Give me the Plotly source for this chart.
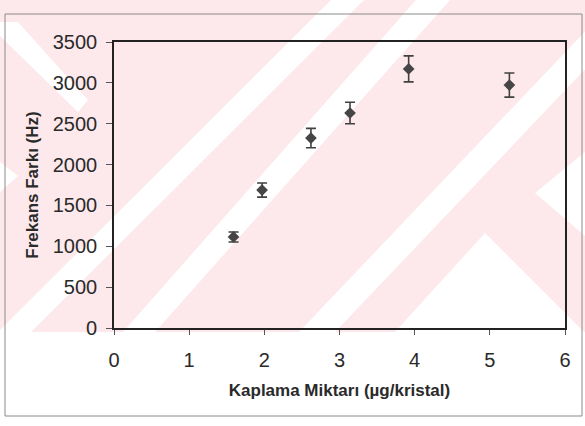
import plotly.graph_objects as go

# ---- data ----
kaplama = [1.59, 1.97, 2.62, 3.14, 3.92, 5.26]          # µg/kristal
frekans = [1114, 1688, 2324, 2631, 3171, 2973]          # Hz
hata = [61, 86, 119, 132, 159, 147]                      # error (Hz)

x_ticks = [0, 1, 2, 3, 4, 5, 6]
y_ticks = [0, 500, 1000, 1500, 2000, 2500, 3000, 3500]
x_title = "Kaplama Miktarı (µg/kristal)"
y_title = "Frekans Farkı (Hz)"

# ---- layout geometry (pixels) ----
W, H = 585, 426
L, R, T, B = 114, 20, 42, 98
pw, ph = W - L - R, H - T - B


def px2paper(px, py):
    return (px - L) / pw, (H - B - py) / ph


def path_from_px(points):
    parts = []
    for i, (px, py) in enumerate(points):
        xp, yp = px2paper(px, py)
        parts.append(("M" if i == 0 else "L") + f"{xp:.4f},{yp:.4f}")
    return " ".join(parts) + " Z"


# background watermark decoration (scan artefact), in pixel space
pink = "#fde9ec"
decor_pink = [[(0, 0), (585, 0), (585, 332), (0, 332)]]
decor_white = [
    [(-2, 332), (31, 332), (364, 0), (331, 0)],          # band A
    [(123, 332), (155, 332), (450, 0), (416, 0)],         # band B
    [(299, 332), (335, 332), (651, 0), (615, 0)],         # band C
    [(395, 332), (485, 233), (584, 332)],                 # triangle
    [(0, 22), (18, 22), (88, 100), (78, 112), (0, 36)],   # top-left chevron
    [(0, 162), (18, 176), (0, 192)],
    [(585, 152), (535, 193), (585, 236)],                 # right chevron
]

shapes = []
for poly in decor_pink:
    shapes.append(dict(type="path", xref="paper", yref="paper", path=path_from_px(poly),
                       fillcolor=pink, line=dict(width=0), layer="below"))
for poly in decor_white:
    shapes.append(dict(type="path", xref="paper", yref="paper", path=path_from_px(poly),
                       fillcolor="white", line=dict(width=0), layer="below"))
# outer frame
fx0, fy0 = px2paper(5, 416)
fx1, fy1 = px2paper(582, 14)
shapes.append(dict(type="rect", xref="paper", yref="paper", x0=fx0, y0=fy0, x1=fx1, y1=fy1,
                   line=dict(color="#8a8a8a", width=1), fillcolor="rgba(0,0,0,0)", layer="below"))

fig = go.Figure()
fig.add_trace(go.Scatter(
    x=kaplama, y=frekans, mode="markers",
    marker=dict(symbol="diamond", size=9, color="#454545"),
    error_y=dict(type="data", array=hata, visible=True, color="#404040", thickness=1.6, width=5),
    showlegend=False,
))

axis_font = dict(family="Liberation Sans, Arial, sans-serif", size=20, color="#2a2a2a")
title_font = dict(family="Liberation Sans, Arial, sans-serif", size=17, color="#2a2a2a")

fig.update_layout(
    width=W, height=H,
    margin=dict(l=L, r=R, t=T, b=B, pad=0),
    paper_bgcolor="white", plot_bgcolor="rgba(0,0,0,0)",
    shapes=shapes,
    xaxis=dict(range=[0, 6], tickvals=x_ticks, ticktext=[str(v) for v in x_ticks],
               showgrid=False, zeroline=False, showline=True, linecolor="#222", linewidth=1.6,
               mirror=True, ticks="outside", ticklen=5, tickcolor="#555", tickwidth=1,
               tickfont=axis_font, ticklabelstandoff=8,
               title=dict(text="<b>" + x_title + "</b>", font=title_font, standoff=14)),
    yaxis=dict(range=[0, 3500], tickvals=y_ticks, ticktext=[str(v) for v in y_ticks],
               showgrid=False, zeroline=False, showline=True, linecolor="#222", linewidth=1.6,
               mirror=True, ticks="outside", ticklen=6, tickcolor="#555", tickwidth=1,
               tickfont=axis_font, ticklabelstandoff=5,
               title=dict(text="<b>" + y_title + "</b>", font=title_font, standoff=10)),
)

fig.write_html("out.html",
               config={"displayModeBar": False},
               post_script="document.body.style.margin='0px';document.body.style.overflow='hidden';")
